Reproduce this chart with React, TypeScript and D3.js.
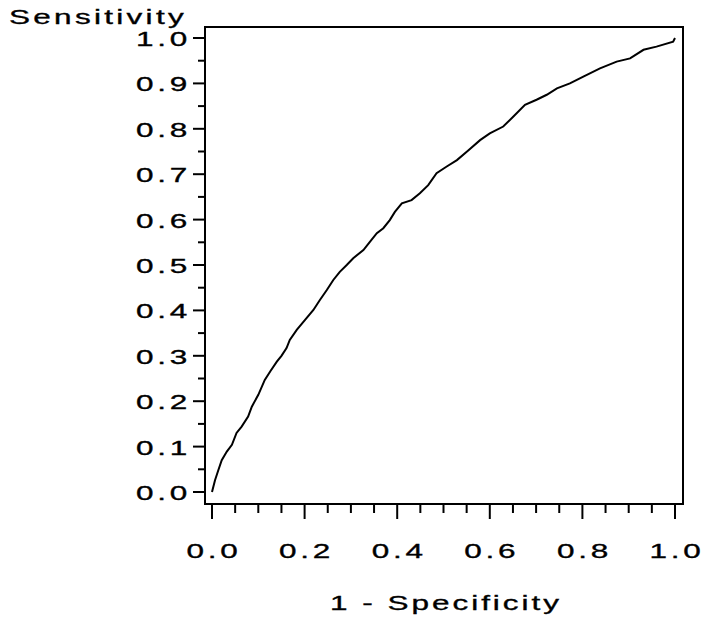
import React, { useEffect, useRef } from 'react';
import { select, scaleLinear, line, range } from 'd3';

// ROC curve points
const fpr = [0, 0.0065, 0.0136, 0.021, 0.032, 0.043, 0.053, 0.064, 0.078, 0.086, 0.1, 0.114, 0.126, 0.14, 0.15,
  0.161, 0.168, 0.183, 0.201, 0.219, 0.233, 0.248, 0.262, 0.276, 0.291, 0.305, 0.327, 0.341, 0.356, 0.37, 0.384,
  0.395, 0.41, 0.431, 0.449, 0.467, 0.485, 0.507, 0.529, 0.554, 0.579, 0.6, 0.629, 0.651, 0.676, 0.701, 0.723,
  0.745, 0.773, 0.802, 0.838, 0.874, 0.903, 0.932, 0.96, 0.996, 1];
const tpr = [0, 0.026, 0.048, 0.07, 0.089, 0.104, 0.13, 0.144, 0.166, 0.188, 0.214, 0.247, 0.266, 0.287, 0.3,
  0.317, 0.335, 0.357, 0.379, 0.401, 0.423, 0.445, 0.467, 0.485, 0.5, 0.515, 0.533, 0.551, 0.57, 0.581, 0.599,
  0.617, 0.636, 0.643, 0.658, 0.676, 0.702, 0.717, 0.731, 0.753, 0.775, 0.79, 0.805, 0.827, 0.853, 0.864, 0.875,
  0.889, 0.9, 0.915, 0.933, 0.948, 0.955, 0.974, 0.981, 0.992, 1];

const xTicks = [0, 0.2, 0.4, 0.6, 0.8, 1.0];
const xTickLabels = ['0.0', '0.2', '0.4', '0.6', '0.8', '1.0'];
const yTicks = [0, 0.1, 0.2, 0.3, 0.4, 0.5, 0.6, 0.7, 0.8, 0.9, 1.0];
const yTickLabels = ['0.0', '0.1', '0.2', '0.3', '0.4', '0.5', '0.6', '0.7', '0.8', '0.9', '1.0'];
const xTitle = '1 - Specificity';
const yTitle = 'Sensitivity';

const FONT = '"Liberation Sans", Arial, sans-serif';
const STRETCH = 1.5;

const App = () => {
  const svgRef = useRef<SVGSVGElement>(null);

  useEffect(() => {
    const svg = select(svgRef.current);
    svg.selectAll('*').remove();

    const xScale = scaleLinear().domain([0, 1]).range([212, 675]);
    const yScale = scaleLinear().domain([0, 1]).range([492, 38]);

    // frame
    svg.append('rect')
      .attr('x', 205).attr('y', 27)
      .attr('width', 683 - 205).attr('height', 504 - 27)
      .attr('fill', 'none').attr('stroke', 'black').attr('stroke-width', 2);

    const xMinor = range(1, 20).map(i => i * 0.05).filter(v => Math.abs(v * 5 - Math.round(v * 5)) > 1e-6);
    const yMinor = range(0, 10).map(i => i * 0.1 + 0.05);

    // y ticks
    svg.selectAll('.ymaj').data(yTicks).join('line')
      .attr('x1', 193).attr('x2', 205)
      .attr('y1', d => yScale(d)).attr('y2', d => yScale(d))
      .attr('stroke', 'black').attr('stroke-width', 2);
    svg.selectAll('.ymin').data(yMinor).join('line')
      .attr('x1', 198).attr('x2', 205)
      .attr('y1', d => yScale(d)).attr('y2', d => yScale(d))
      .attr('stroke', 'black').attr('stroke-width', 2);

    // x ticks
    svg.selectAll('.xmaj').data(xTicks).join('line')
      .attr('x1', d => xScale(d)).attr('x2', d => xScale(d))
      .attr('y1', 504).attr('y2', 519)
      .attr('stroke', 'black').attr('stroke-width', 2);
    svg.selectAll('.xmin').data(xMinor).join('line')
      .attr('x1', d => xScale(d)).attr('x2', d => xScale(d))
      .attr('y1', 504).attr('y2', 513)
      .attr('stroke', 'black').attr('stroke-width', 2);

    const stretched = (x: number, y: number, txt: string, anchor: string, spacing: number) => {
      svg.append('g')
        .attr('transform', `translate(${x},${y}) scale(${STRETCH},1)`)
        .append('text')
        .attr('text-anchor', anchor)
        .attr('font-family', FONT)
        .attr('font-size', 21)
        .attr('letter-spacing', spacing)
        .attr('stroke', 'black')
        .attr('stroke-width', 0.35)
        .attr('fill', 'black')
        .text(txt);
    };

    yTicks.forEach((t, i) => stretched(191, yScale(t) + 8, yTickLabels[i], 'end', 2.5));
    xTicks.forEach((t, i) => stretched(xScale(t) + 2, 558, xTickLabels[i], 'middle', 2.5));

    stretched(9, 24, yTitle, 'start', 2.2);
    stretched(446, 610, xTitle, 'middle', 2);

    // ROC curve
    const pts = fpr.map((f, i) => [f, tpr[i]] as [number, number]);
    const roc = line<[number, number]>()
      .x(d => xScale(d[0]))
      .y(d => yScale(d[1]));
    svg.append('path')
      .datum(pts)
      .attr('d', roc)
      .attr('fill', 'none')
      .attr('stroke', 'black')
      .attr('stroke-width', 2);
  }, []);

  return (
    <svg ref={svgRef} width={704} height={618}
      style={{ position: 'absolute', left: 0, top: 0, background: 'white' }} />
  );
};

export default App;
